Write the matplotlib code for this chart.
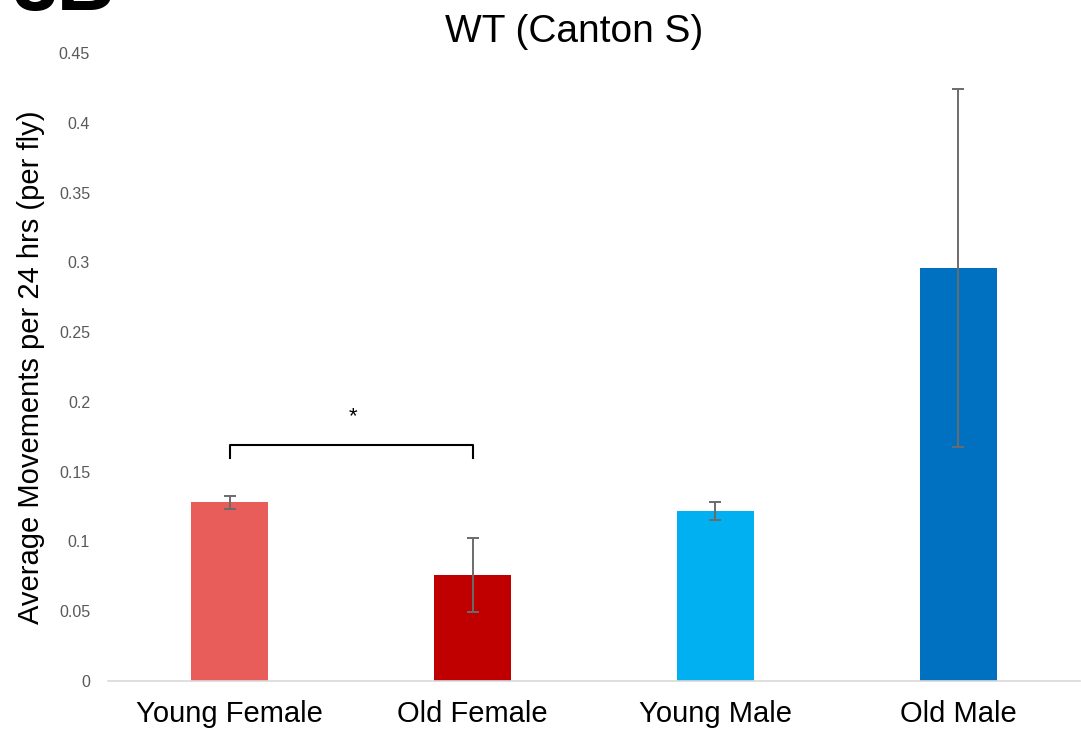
import matplotlib.pyplot as plt
import numpy as np

plt.rcParams['font.family'] = ['Liberation Sans', 'DejaVu Sans']

groups = ['Young Female', 'Old Female', 'Young Male', 'Old Male']
means = [0.128, 0.076, 0.122, 0.296]
errors = [0.0045, 0.0265, 0.0065, 0.128]
colors = ['#E85C5A', '#C00000', '#00B0F0', '#0070C0']
yticks = [0, 0.05, 0.1, 0.15, 0.2, 0.25, 0.3, 0.35, 0.4, 0.45]
ytick_labels = ['0', '0.05', '0.1', '0.15', '0.2', '0.25', '0.3', '0.35', '0.4', '0.45']

# significance bracket between young and old females
bracket_pair = (0, 1)
bracket_y = 0.169
bracket_drop = 0.009

W, H = 1081, 731
fig = plt.figure(figsize=(W / 100, H / 100), dpi=100)
ax = fig.add_axes([0.1, 0.0684, 0.899, 0.859])

x = np.arange(len(groups))
ax.bar(x, means, width=0.32, color=colors, zorder=2)
ax.errorbar(x, means, yerr=errors, fmt='none', ecolor='#6b6b6b',
            elinewidth=1.4, capsize=4, capthick=1.4, zorder=3)

x0, x1 = bracket_pair
ax.plot([x0, x0, x1, x1],
        [bracket_y - bracket_drop, bracket_y, bracket_y, bracket_y - bracket_drop],
        color='black', lw=1.5, zorder=3)
ax.text((x0 + x1) / 2 + 0.01, bracket_y + 0.013, '*', ha='center', va='bottom', fontsize=16)

ax.set_xlim(-0.5, 3.5)
ax.set_ylim(0, 0.45)
ax.set_xticks(x)
ax.set_xticklabels(groups, fontsize=21)
ax.set_yticks(yticks)
ax.set_yticklabels(ytick_labels, fontsize=11.5, color='#595959')
ax.tick_params(axis='both', length=0)
ax.tick_params(axis='y', pad=13)
ax.tick_params(axis='x', pad=14)

for side in ['top', 'right', 'left']:
    ax.spines[side].set_visible(False)
ax.spines['bottom'].set_color('#d9d9d9')
ax.spines['bottom'].set_linewidth(1.2)

ax.set_ylabel('Average Movements per 24 hrs (per fly)', fontsize=21, labelpad=10)

fig.text(574 / W, 1 - 42 / H, 'WT (Canton S)', fontsize=28, ha='center', va='baseline')
fig.text(12 / W, 1 - 10 / H, '3B', fontsize=58, fontweight='bold', va='baseline', ha='left')

fig.savefig('out.png', dpi=100)
